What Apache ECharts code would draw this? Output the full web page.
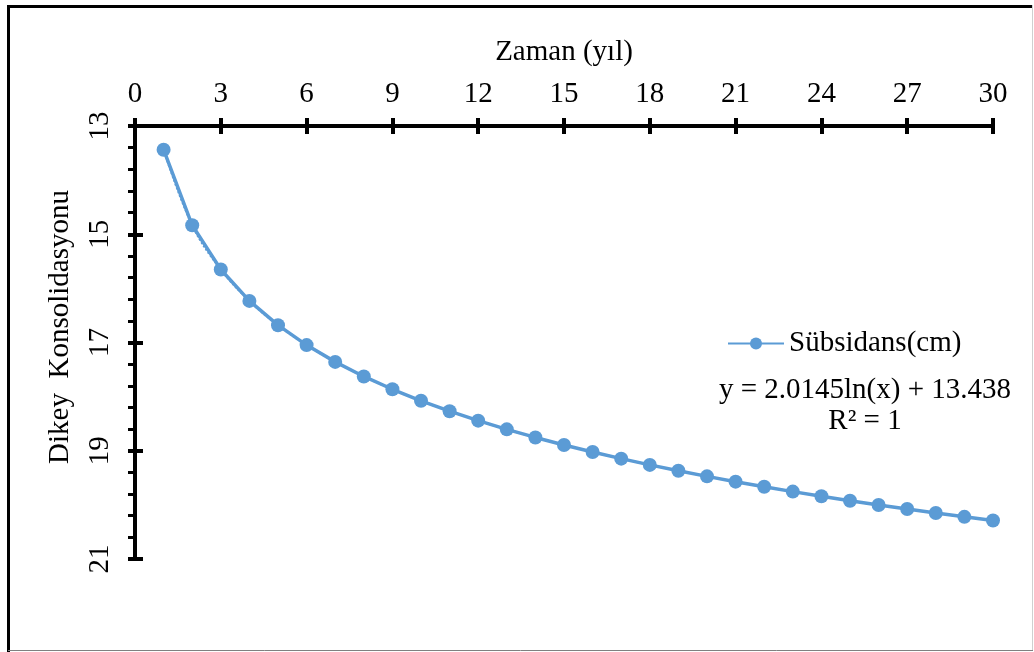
<!DOCTYPE html>
<html>
<head>
<meta charset="utf-8">
<script src="https://cdn.jsdelivr.net/npm/echarts@6/dist/echarts.min.js"></script>
<style>
html,body{margin:0;padding:0;background:#fff;}
#chart{width:1034px;height:652px;}
</style>
</head>
<body>
<div id="chart"></div>
<script>
const years = [1,2,3,4,5,6,7,8,9,10,11,12,13,14,15,16,17,18,19,20,21,22,23,24,25,26,27,28,29,30];
const subsidence = [13.438,14.834,15.651,16.231,16.680,17.048,17.358,17.627,17.864,18.077,
  18.269,18.444,18.605,18.754,18.893,19.023,19.146,19.261,19.370,19.473,
  19.571,19.665,19.755,19.840,19.923,20.001,20.077,20.151,20.221,20.290];
const seriesName = 'Sübsidans(cm)';
const xTitle = 'Zaman (yıl)';
const yTitle = 'Dikey  Konsolidasyonu';
const equationText = 'y = 2.0145ln(x) + 13.438';
const r2Text = 'R² = 1';

const FONT = '"Liberation Serif", "Times New Roman", serif';
const FS = 29;
const BLUE = '#5B9BD5';
const pts = years.map((x, i) => [x, subsidence[i]]);

const chart = echarts.init(document.getElementById('chart'), null, {renderer: 'canvas'});
const commonX = {
  type: 'value', position: 'top', min: 0, max: 30, interval: 3,
  splitLine: {show: false}
};
const commonY = {
  type: 'value', position: 'left', inverse: true, min: 13, max: 21, interval: 2,
  splitLine: {show: false}
};
chart.setOption({
  animation: false,
  backgroundColor: '#fff',
  grid: {left: 135, right: 41, top: 126, bottom: 93, containLabel: false},
  xAxis: [
    Object.assign({}, commonX, {
      name: xTitle, nameLocation: 'middle', nameGap: 59,
      nameTextStyle: {fontFamily: FONT, fontSize: FS, color: '#000'},
      axisLine: {show: true, onZero: false, lineStyle: {color: '#000', width: 4}},
      axisTick: {show: true, inside: false, length: 8, lineStyle: {color: '#000', width: 4}},
      axisLabel: {show: true, margin: 17, fontFamily: FONT, fontSize: FS, color: '#000'}
    }),
    Object.assign({}, commonX, {
      axisLine: {show: false},
      axisTick: {show: true, inside: true, length: 8, lineStyle: {color: '#000', width: 4}},
      axisLabel: {show: false}
    })
  ],
  yAxis: [
    Object.assign({}, commonY, {
      axisLine: {show: true, onZero: false, lineStyle: {color: '#000', width: 4}},
      axisTick: {show: true, inside: false, length: 7, lineStyle: {color: '#000', width: 4}},
      minorTick: {show: true, splitNumber: 5, length: 7, lineStyle: {color: '#000', width: 3}},
      axisLabel: {show: true, rotate: 90, margin: 20, fontFamily: FONT, fontSize: FS, color: '#000'}
    }),
    Object.assign({}, commonY, {
      axisLine: {show: false},
      axisTick: {show: true, inside: true, length: 8, lineStyle: {color: '#000', width: 4}},
      axisLabel: {show: false}
    })
  ],
  legend: {
    data: [seriesName],
    left: 722, top: 324,
    itemWidth: 56, itemHeight: 15, itemGap: 6,
    textStyle: {fontFamily: FONT, fontSize: FS, color: '#000'}
  },
  series: [
    {
      name: 'trend', type: 'line', data: pts, smooth: 0.4,
      showSymbol: false, symbol: 'none', silent: true,
      lineStyle: {color: BLUE, width: 2, type: 'dotted'}, z: 1
    },
    {
      name: seriesName, type: 'line', data: pts,
      symbol: 'circle', symbolSize: 14,
      itemStyle: {color: BLUE},
      lineStyle: {color: BLUE, width: 3.5}, z: 3
    }
  ],
  graphic: [
    {type: 'line', shape: {x1: 8.5, y1: 6.5, x2: 1032, y2: 6.5}, style: {stroke: '#000', lineWidth: 3}},
    {type: 'line', shape: {x1: 8.5, y1: 5, x2: 8.5, y2: 652}, style: {stroke: '#000', lineWidth: 3}},
    {type: 'line', shape: {x1: 1032.5, y1: 5, x2: 1032.5, y2: 651}, style: {stroke: '#d0d0d0', lineWidth: 1}},
    {type: 'line', shape: {x1: 8, y1: 650.5, x2: 1033, y2: 650.5}, style: {stroke: '#808080', lineWidth: 1}},
    {type: 'text', x: 60, y: 327, rotation: Math.PI / 2,
      style: {text: yTitle, fontFamily: FONT, fontSize: FS, fill: '#000', align: 'center', verticalAlign: 'middle'}},
    {type: 'text', x: 865, y: 390,
      style: {text: equationText, fontFamily: FONT, fontSize: FS, fill: '#000', align: 'center', verticalAlign: 'middle'}},
    {type: 'text', x: 865, y: 421,
      style: {text: r2Text, fontFamily: FONT, fontSize: FS, fill: '#000', align: 'center', verticalAlign: 'middle'}}
  ]
});
</script>
</body>
</html>
